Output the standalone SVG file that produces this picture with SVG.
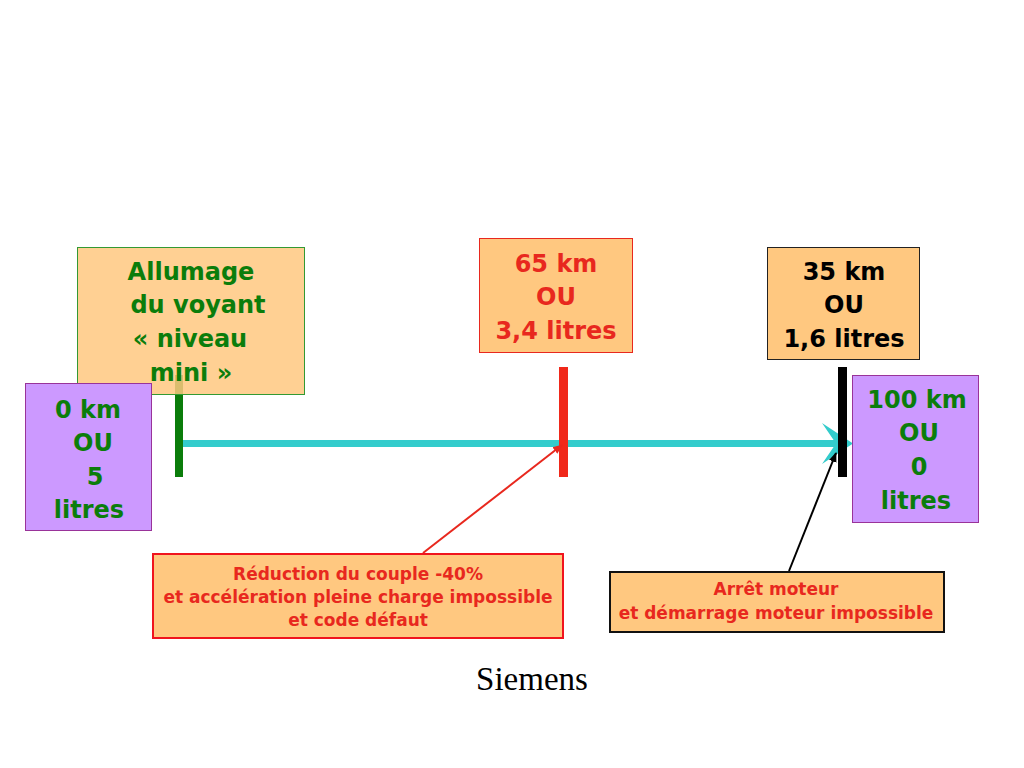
<svg xmlns="http://www.w3.org/2000/svg" width="1024" height="768" viewBox="0 0 1024 768">
<style>
.t{font-family:"DejaVu Sans","Liberation Sans",sans-serif;font-weight:bold;text-anchor:middle}
.big{font-size:24px}
.sm{font-size:17px}
.g{fill:#0B7D0B}
.r{fill:#E8281E}
.k{fill:#000}
.orange{fill:#FFC880}
.purple{fill:#CC99FF;stroke:#993399;stroke-width:1}
</style>
<defs>
<marker id="ar" markerWidth="10" markerHeight="10" refX="9" refY="5" orient="auto" markerUnits="userSpaceOnUse">
<path d="M0,1 L10,5 L0,9 Z" fill="#E8281E"/>
</marker>
<marker id="ak" markerWidth="10" markerHeight="10" refX="9" refY="5" orient="auto" markerUnits="userSpaceOnUse">
<path d="M0,1 L10,5 L0,9 Z" fill="#000"/>
</marker>
</defs>
<rect width="1024" height="768" fill="#fff"/>

<g id="timeline">
<line x1="183" y1="443.5" x2="836" y2="443.5" stroke="#33CCCC" stroke-width="7"/>
<polygon points="853,443.5 822,423 836,443.5 822,464" fill="#33CCCC"/>
</g>

<g id="tick-green"><rect x="175" y="375" width="8" height="102" fill="#0B7D0B"/></g>

<g id="node-allumage">
<rect x="77.5" y="247.5" width="227" height="147" class="orange" fill-opacity="0.85" stroke="#339933" stroke-width="1"/>
<text class="t big g" x="191" y="280">Allumage</text>
<text class="t big g" x="198" y="313">du voyant</text>
<text class="t big g" x="190" y="347">« niveau</text>
<text class="t big g" x="191" y="381">mini »</text>
</g>

<g id="node-0km">
<rect x="25.5" y="383.5" width="126" height="147" class="purple"/>
<text class="t big g" x="88" y="418">0 km</text>
<text class="t big g" x="93" y="451">OU</text>
<text class="t big g" x="95" y="485">5</text>
<text class="t big g" x="89" y="518">litres</text>
</g>

<g id="node-65km">
<rect x="479.5" y="238.5" width="153" height="114" class="orange" stroke="#E8281E" stroke-width="1"/>
<text class="t big r" x="556" y="272">65 km</text>
<text class="t big r" x="556" y="305">OU</text>
<text class="t big r" x="556" y="339">3,4 litres</text>
</g>
<g id="tick-red"><rect x="559" y="367" width="9" height="110" fill="#F0281A"/></g>

<g id="node-35km">
<rect x="767.5" y="247.5" width="152" height="112" class="orange" stroke="#222" stroke-width="1"/>
<text class="t big k" x="844" y="280">35 km</text>
<text class="t big k" x="844" y="313">OU</text>
<text class="t big k" x="844" y="347">1,6 litres</text>
</g>
<g id="tick-black"><rect x="838" y="367" width="9" height="110" fill="#000"/></g>

<g id="node-100km">
<rect x="852.5" y="375.5" width="126" height="147" class="purple"/>
<text class="t big g" x="917" y="408">100 km</text>
<text class="t big g" x="919" y="441">OU</text>
<text class="t big g" x="919" y="475">0</text>
<text class="t big g" x="916" y="509">litres</text>
</g>

<g id="connectors">
<line x1="423" y1="553" x2="562" y2="445" stroke="#E8281E" stroke-width="2" marker-end="url(#ar)"/>
<line x1="789" y1="571" x2="836" y2="453" stroke="#000" stroke-width="2" marker-end="url(#ak)"/>
</g>

<g id="node-reduction">
<rect x="153" y="554" width="410" height="84" class="orange" stroke="#F0141E" stroke-width="2"/>
<text class="t sm r" x="358" y="580">Réduction du couple -40%</text>
<text class="t sm r" x="358" y="603">et accélération pleine charge impossible</text>
<text class="t sm r" x="358" y="626">et code défaut</text>
</g>

<g id="node-arret">
<rect x="610" y="572" width="334" height="60" class="orange" stroke="#111" stroke-width="2"/>
<text class="t sm r" x="776" y="595">Arrêt moteur</text>
<text class="t sm r" x="776" y="619">et démarrage moteur impossible</text>
</g>

<text x="532" y="690" font-family="Liberation Serif,serif" font-size="33" text-anchor="middle" fill="#000">Siemens</text>
</svg>
